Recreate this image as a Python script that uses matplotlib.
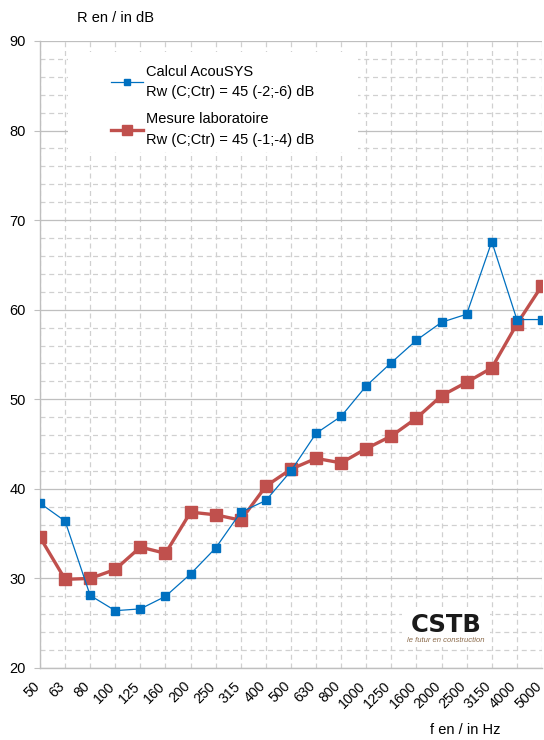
import matplotlib
matplotlib.use("Agg")
import matplotlib.pyplot as plt
from matplotlib.ticker import MultipleLocator
from matplotlib.patches import Rectangle
from matplotlib.transforms import ScaledTranslation

plt.rcParams['font.family'] = ['Liberation Sans', 'DejaVu Sans']

freqs = ["50", "63", "80", "100", "125", "160", "200", "250", "315", "400", "500",
         "630", "800", "1000", "1250", "1600", "2000", "2500", "3150", "4000", "5000"]
calcul = [38.4, 36.4, 28.1, 26.4, 26.6, 28.0, 30.5, 33.4, 37.4, 38.7, 42.0,
          46.2, 48.1, 51.5, 54.1, 56.6, 58.6, 59.5, 67.6, 58.9, 58.9]
mesure = [34.6, 29.9, 30.0, 31.0, 33.5, 32.8, 37.4, 37.1, 36.5, 40.3, 42.2,
          43.4, 42.9, 44.5, 45.9, 47.9, 50.4, 51.9, 53.5, 58.4, 62.7]

blue = "#0070C0"
red = "#C0504D"

fig = plt.figure(figsize=(5.44, 7.40), dpi=100)
ax = fig.add_axes([0.0735, 0.0973, 0.9228, 0.8473])

x = list(range(len(freqs)))
ax.plot(x, calcul, color=blue, lw=0.9, marker="s", ms=5.5, mec=blue, mfc=blue,
        label="Calcul AcouSYS\nRw (C;Ctr) = 45 (-2;-6) dB", zorder=4)
ax.plot(x, mesure, color=red, lw=2.4, marker="s", ms=8, mec=red, mfc=red,
        label="Mesure laboratoire\nRw (C;Ctr) = 45 (-1;-4) dB", zorder=3)

ax.set_xlim(0, len(freqs) - 1)
ax.set_ylim(20, 90)
ax.set_xticks(x)
ax.set_xticklabels([])
ax.yaxis.set_major_locator(MultipleLocator(10))
ax.yaxis.set_minor_locator(MultipleLocator(2))
ax.tick_params(axis="both", labelsize=10.5, colors="#000000", color="#BFBFBF")
ax.tick_params(axis="y", length=4, pad=6)
ax.tick_params(axis="x", length=0)
ax.tick_params(axis="y", which="minor", length=0)

# slanted frequency labels, set a bit left of each tick so 5000 stays inside
lab_tr = ax.get_xaxis_transform() + ScaledTranslation(-5.5 / 72, -8 / 72,
                                                      fig.dpi_scale_trans)
for i, f in enumerate(freqs):
    ax.text(i, 0, f, transform=lab_tr, rotation=45, ha="right", va="top",
            rotation_mode="anchor", fontsize=10.2, clip_on=False)

ax.grid(True, axis="y", which="major", color="#BFBFBF", lw=0.9, ls="-")
ax.grid(True, axis="y", which="minor", color="#D0D0D0", lw=0.9, ls=(0, (4, 3)))
ax.grid(True, axis="x", which="major", color="#D0D0D0", lw=0.9, ls=(0, (4, 3)))
ax.set_axisbelow(True)

for side in ["top", "right"]:
    ax.spines[side].set_visible(False)
for side in ["left", "bottom"]:
    ax.spines[side].set_color("#BFBFBF")
    ax.spines[side].set_linewidth(1.0)

# white area behind the legend
ax.add_patch(Rectangle((0.056, 0.823), 0.577, 0.159, transform=ax.transAxes,
                       facecolor="white", edgecolor="none", zorder=2))
leg = ax.legend(loc="upper left", bbox_to_anchor=(0.126, 0.974), frameon=False,
                fontsize=10.5, handlelength=2.25, handletextpad=0.2,
                labelspacing=0.95, borderpad=0, markerscale=0.9)
for t in leg.get_texts():
    t.set_linespacing(1.55)

# logo block in the lower right corner
ax.add_patch(Rectangle((0.721, 0.033), 0.176, 0.064, transform=ax.transAxes,
                       facecolor="white", edgecolor="none", zorder=2))
ax.text(0.809, 0.068, "CSTB", transform=ax.transAxes, ha="center", va="center",
        fontsize=17.5, fontweight="bold", color="#1A1A1A", zorder=3,
        family="DejaVu Sans")
ax.text(0.809, 0.044, "le futur en construction", transform=ax.transAxes,
        ha="center", va="center", fontsize=5.5, style="italic",
        color="#8B6A4A", zorder=3)

fig.text(0.212, 0.975, "R en / in dB", ha="center", va="center", fontsize=10.5)
fig.text(0.855, 0.013, "f en / in Hz", ha="center", va="center", fontsize=10.5)

fig.savefig("out.png", dpi=100)
